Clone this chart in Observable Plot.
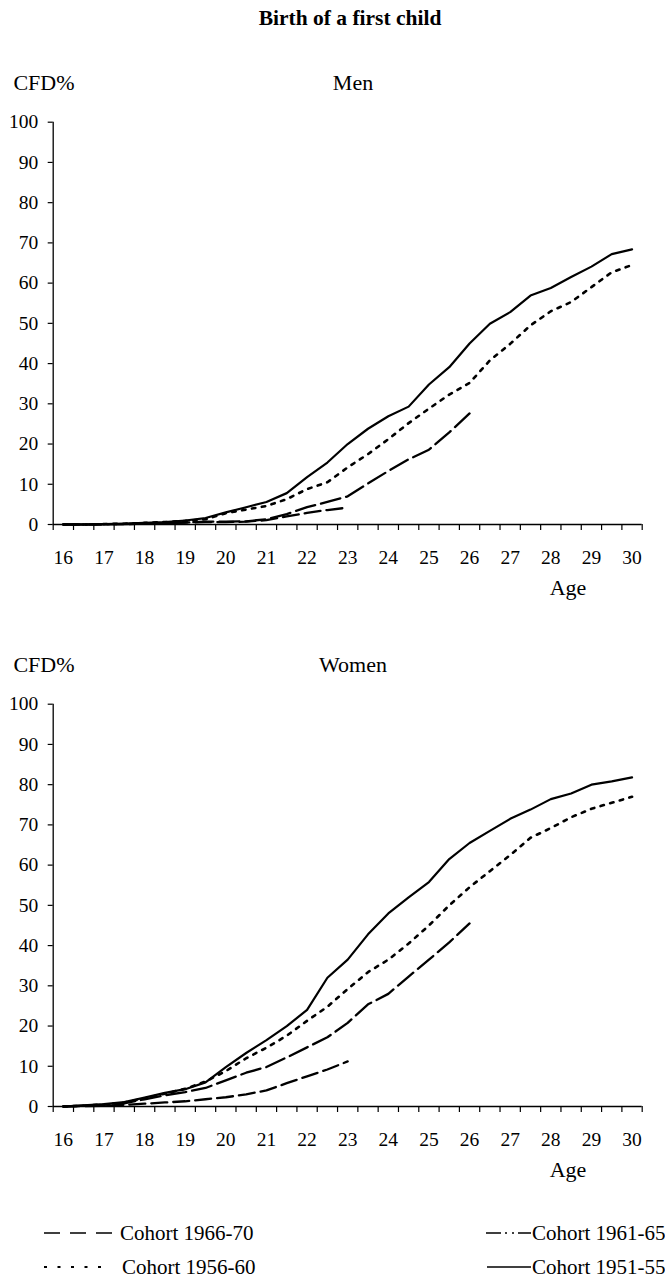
<!DOCTYPE html>
<html><head><meta charset="utf-8">
<script src="https://cdn.jsdelivr.net/npm/d3@7"></script>
<script src="https://cdn.jsdelivr.net/npm/@observablehq/plot@0.6"></script>
<style>
body{margin:0;background:#fff;}
#root{position:relative;width:665px;height:1282px;overflow:hidden;background:#fff;}
</style></head><body><div id="root"></div>
<script>
// ---- data ----
const ages = [16,16.5,17,17.5,18,18.5,19,19.5,20,20.5,21,21.5,22,22.5,23,23.5,24,24.5,25,25.5,26,26.5,27,27.5,28,28.5,29,29.5,30];
const ageLabels = [16,17,18,19,20,21,22,23,24,25,26,27,28,29,30];
const yTicks = [0,10,20,30,40,50,60,70,80,90,100];
const cohorts = ["Cohort 1966-70","Cohort 1961-65","Cohort 1956-60","Cohort 1951-55"];

const menC6670 = [0,0,0,0.1,0.2,0.3,0.5,0.6,0.6,0.7,1.1,2.0,2.9,3.6,4.2];
const menC6165 = [0,0,0.1,0.1,0.2,0.3,0.5,0.7,0.7,0.8,1.3,2.6,4.3,5.6,7.0,10.2,13.3,16.2,18.6,22.9,27.6];
const menC5660 = [0,0,0.1,0.2,0.4,0.6,0.9,1.3,2.8,3.7,4.6,6.3,8.8,10.5,14.2,17.5,21.2,25.2,28.8,32.3,35.2,40.8,44.9,49.5,53,55.3,59,62.7,64.5];
const menC5155 = [0,0,0.1,0.2,0.4,0.6,1.0,1.6,3.0,4.3,5.6,7.8,11.8,15.4,20,23.8,26.9,29.3,34.8,39.1,45,49.9,52.8,56.9,58.8,61.5,64.1,67.2,68.4];

const womenC6670 = [0,0.1,0.2,0.4,0.7,1.0,1.3,1.8,2.3,3.0,4.0,5.8,7.5,9.2,11.2];
const womenC6165 = [0,0.2,0.4,0.8,1.8,2.8,3.6,4.6,6.5,8.4,9.8,12.2,14.7,17.2,20.8,25.4,28,32.3,36.5,40.8,45.5];
const womenC5660 = [0,0.2,0.5,1.0,2.0,3.2,4.4,6.2,8.8,12,14.6,17.6,21.3,24.8,29.2,33.4,36.5,40.5,45,50,54.5,58.5,62.5,66.8,69.2,71.9,74,75.5,77];
const womenC5155 = [0,0.3,0.6,1.1,2.2,3.4,4.3,6.0,9.8,13.3,16.5,20,24,32,36.5,42.8,48,52,55.8,61.5,65.5,68.5,71.5,73.8,76.4,77.8,80,80.8,81.8];

// ---- styles ----
const FONT = "'Liberation Serif','Times New Roman',serif";
const dash = {
  "Cohort 1966-70": {dasharray: "16,6", width: 2.3},
  "Cohort 1961-65": {dasharray: "20,6", width: 2.3},
  "Cohort 1956-60": {dasharray: "3.5,6.5", width: 2.6},
  "Cohort 1951-55": {dasharray: null, width: 2.2}
};
const xMin = 15.75, xMax = 30.25;
const tickMarks = d3.range(30).map(i => xMin + 0.5 * i);

const root = document.getElementById("root");

function panel(seriesList, top) {
  const rows = [];
  seriesList.forEach((vals, ci) => vals.forEach((v, i) => rows.push({cohort: cohorts[ci], age: ages[i], value: v})));
  const lines = cohorts.map(c => Plot.line(rows.filter(r => r.cohort === c), {
    x: "age", y: "value", stroke: "black", strokeWidth: dash[c].width,
    strokeDasharray: dash[c].dasharray || undefined, strokeLinejoin: "round"
  }));
  const svg = Plot.plot({
    width: 665, height: 520,
    marginLeft: 52.7, marginRight: 23.3, marginTop: 21.7, marginBottom: 96,
    x: {domain: [xMin, xMax], axis: null},
    y: {domain: [0, 100], axis: null},
    style: {fontFamily: FONT, fontSize: "19.5px", color: "black", background: "transparent"},
    marks: [
      Plot.axisY({ticks: yTicks, tickSize: 5, tickPadding: 10, label: null, fontSize: 19.5, strokeWidth: 1.2}),
      Plot.axisX({ticks: tickMarks, tickSize: 6, tickFormat: () => "", label: null, strokeWidth: 1.2}),
      Plot.axisX({ticks: ageLabels, tickSize: 0, tickPadding: 26, label: null, fontSize: 19.5}),
      Plot.ruleX([xMin], {y1: 0, y2: 100, stroke: "black", strokeWidth: 1.3}),
      Plot.ruleY([0], {x1: xMin, x2: xMax, stroke: "black", strokeWidth: 1.3}),
      ...lines
    ]
  });
  svg.style.position = "absolute";
  svg.style.left = "0px";
  svg.style.top = top + "px";
  root.appendChild(svg);
}

panel([menC6670, menC6165, menC5660, menC5155], 100);
panel([womenC6670, womenC6165, womenC5660, womenC5155], 682);

// ---- overlay text & legend ----
const ov = d3.select(root).append("svg")
  .attr("width", 665).attr("height", 1282)
  .style("position", "absolute").style("left", "0px").style("top", "0px")
  .style("font-family", FONT);

function txt(s, x, y, size, anchor = "middle", weight = "normal") {
  ov.append("text").attr("x", x).attr("y", y).attr("text-anchor", anchor)
    .attr("dominant-baseline", "central").attr("font-size", size)
    .attr("font-weight", weight).attr("fill", "black").text(s);
}
txt("Birth of a first child", 350, 18, 21.5, "middle", "bold");
[[0, "Men"], [582, "Women"]].forEach(([dy, name]) => {
  txt("CFD%", 44, 82 + dy, 22);
  txt(name, 353, 82 + dy, 22);
  txt("Age", 568, 587 + dy, 22);
});

const legendItems = [
  {c: "Cohort 1966-70", x1: 44, x2: 114, tx: 120, y: 1233, da: "16,10", w: 1.6},
  {c: "Cohort 1961-65", x1: 486, x2: 531, tx: 532, y: 1233, da: "15,4,2,5,2,4", w: 1.6},
  {c: "Cohort 1956-60", x1: 44, x2: 101, tx: 122, y: 1267, da: "3,10.5", w: 1.8},
  {c: "Cohort 1951-55", x1: 487, x2: 531, tx: 532, y: 1267, da: null, w: 1.4}
];
legendItems.forEach(d => {
  const l = ov.append("line").attr("x1", d.x1).attr("x2", d.x2).attr("y1", d.y).attr("y2", d.y)
    .attr("stroke", "black").attr("stroke-width", d.w);
  if (d.da) l.attr("stroke-dasharray", d.da);
  txt(d.c, d.tx, d.y, 21, "start");
});
</script></body></html>
